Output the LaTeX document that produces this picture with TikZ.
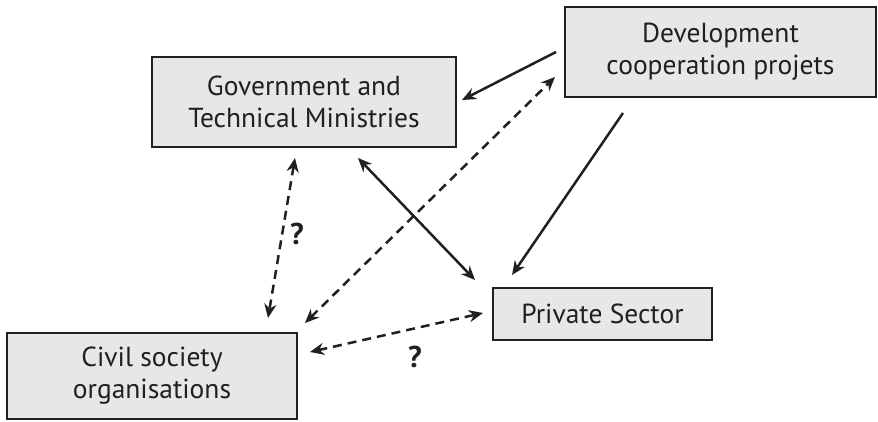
\documentclass[tikz,border=0pt]{standalone}
\usepackage{fontspec}
\setmainfont{PT Sans}
\usetikzlibrary{arrows.meta}
\definecolor{boxfill}{HTML}{E6E7E8}
\definecolor{ink}{HTML}{231F20}
\begin{document}
\begin{tikzpicture}[x=1pt,y=-1pt,
  box/.style={draw=ink,fill=boxfill,line width=2.6pt,align=center,inner sep=0pt,
    font=\fontsize{27.5}{32}\selectfont,text=ink},
  link/.style={draw=ink,line width=2.5pt,-{Stealth[length=14pt,width=12pt]}},
  blink/.style={link,{Stealth[length=14pt,width=12pt]}-{Stealth[length=14pt,width=12pt]}},
  dlink/.style={blink,dash pattern=on 9pt off 6pt},
  qmark/.style={font=\fontsize{30}{34}\selectfont\bfseries,text=ink}]
\useasboundingbox (0,0) rectangle (878,422);
\node[box,minimum width=304pt,minimum height=90pt] (gov) at (304,102) {Government and\\Technical Ministries};
\node[box,minimum width=311pt,minimum height=90pt] (dev) at (720.5,52) {Development\\cooperation projets};
\node[box,minimum width=219pt,minimum height=52pt] (priv) at (602.5,314) {Private Sector};
\node[box,minimum width=290pt,minimum height=86pt] (civ) at (152,376) {Civil society\\organisations};
% connector end points
\coordinate (dg1) at (556,52);  \coordinate (dg2) at (462,100);
\coordinate (cd1) at (305,323); \coordinate (cd2) at (555,77);
\coordinate (gp1) at (358,158); \coordinate (gp2) at (475,280);
\coordinate (dp1) at (623,113); \coordinate (dp2) at (512,275);
\coordinate (gc1) at (295,158); \coordinate (gc2) at (268,318);
\coordinate (cp1) at (310,352); \coordinate (cp2) at (483,313);
\draw[link] (dg1) -- (dg2);
\draw[dlink] (cd1) -- (cd2);
\draw[blink] (gp1) -- (gp2);
\draw[link] (dp1) -- (dp2);
\draw[dlink] (gc1) -- (gc2);
\draw[dlink] (cp1) -- (cp2);
\node[qmark] (q1) at (297,234) {?};
\node[qmark] (q2) at (415,357) {?};
\end{tikzpicture}
\end{document}
